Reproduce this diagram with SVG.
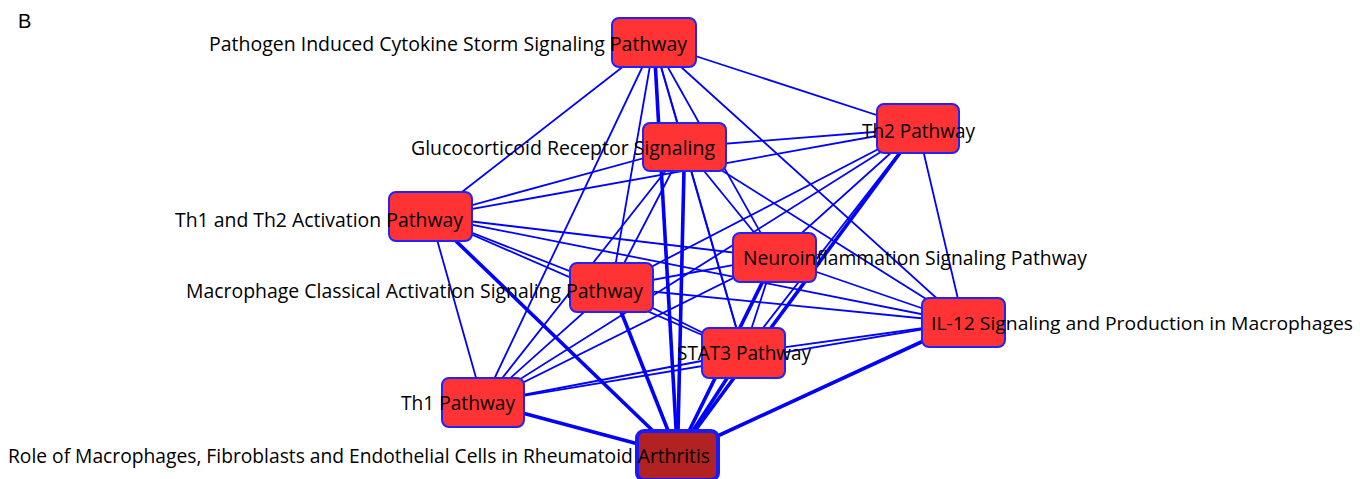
<svg xmlns="http://www.w3.org/2000/svg" width="1360" height="479" viewBox="0 0 1360 479">
<style>
.e{stroke:#0000ff;stroke-width:1.8;fill:none}
.t{stroke-width:3.6}
.n{fill:#ff3333;stroke:#2222ff;stroke-width:2}
.r{fill:#b22222;stroke:#1a1aff;stroke-width:4}
text{font-family:"Open Sans","Noto Sans","Liberation Sans",sans-serif;font-size:20px;fill:#000}
</style>
<rect width="1360" height="479" fill="#fff"/>
<text x="18" y="28" style="font-family:'Liberation Sans',Arial,sans-serif;font-size:20px">B</text>
<g id="edges">
<line class="e" x1="654" y1="42.5" x2="684.5" y2="147"/>
<line class="e" x1="654" y1="42.5" x2="918" y2="128.5"/>
<line class="e" x1="654" y1="42.5" x2="430.5" y2="216.5"/>
<line class="e" x1="654" y1="42.5" x2="611.5" y2="287.5"/>
<line class="e" x1="654" y1="42.5" x2="774.5" y2="257.5"/>
<line class="e" x1="654" y1="42.5" x2="743.5" y2="353"/>
<line class="e" x1="654" y1="42.5" x2="963.5" y2="322.5"/>
<line class="e" x1="654" y1="42.5" x2="483" y2="402.5"/>
<line class="e t" x1="654" y1="42.5" x2="677.5" y2="454.5"/>
<line class="e" x1="684.5" y1="147" x2="918" y2="128.5"/>
<line class="e" x1="684.5" y1="147" x2="430.5" y2="216.5"/>
<line class="e" x1="684.5" y1="147" x2="611.5" y2="287.5"/>
<line class="e" x1="684.5" y1="147" x2="774.5" y2="257.5"/>
<line class="e" x1="684.5" y1="147" x2="743.5" y2="353"/>
<line class="e" x1="684.5" y1="147" x2="963.5" y2="322.5"/>
<line class="e" x1="684.5" y1="147" x2="483" y2="402.5"/>
<line class="e t" x1="684.5" y1="147" x2="677.5" y2="454.5"/>
<line class="e" x1="918" y1="128.5" x2="430.5" y2="216.5"/>
<line class="e" x1="918" y1="128.5" x2="611.5" y2="287.5"/>
<line class="e" x1="918" y1="128.5" x2="774.5" y2="257.5"/>
<line class="e" x1="918" y1="128.5" x2="743.5" y2="353"/>
<line class="e" x1="918" y1="128.5" x2="963.5" y2="322.5"/>
<line class="e" x1="918" y1="128.5" x2="483" y2="402.5"/>
<line class="e t" x1="918" y1="128.5" x2="677.5" y2="454.5"/>
<line class="e" x1="430.5" y1="216.5" x2="611.5" y2="287.5"/>
<line class="e" x1="430.5" y1="216.5" x2="774.5" y2="257.5"/>
<line class="e" x1="430.5" y1="216.5" x2="743.5" y2="353"/>
<line class="e" x1="430.5" y1="216.5" x2="963.5" y2="322.5"/>
<line class="e" x1="430.5" y1="216.5" x2="483" y2="402.5"/>
<line class="e t" x1="430.5" y1="216.5" x2="677.5" y2="454.5"/>
<line class="e" x1="611.5" y1="287.5" x2="774.5" y2="257.5"/>
<line class="e" x1="611.5" y1="287.5" x2="743.5" y2="353"/>
<line class="e" x1="611.5" y1="287.5" x2="963.5" y2="322.5"/>
<line class="e" x1="611.5" y1="287.5" x2="483" y2="402.5"/>
<line class="e t" x1="611.5" y1="287.5" x2="677.5" y2="454.5"/>
<line class="e" x1="774.5" y1="257.5" x2="743.5" y2="353"/>
<line class="e" x1="774.5" y1="257.5" x2="963.5" y2="322.5"/>
<line class="e" x1="774.5" y1="257.5" x2="483" y2="402.5"/>
<line class="e t" x1="774.5" y1="257.5" x2="677.5" y2="454.5"/>
<line class="e" x1="743.5" y1="353" x2="963.5" y2="322.5"/>
<line class="e" x1="743.5" y1="353" x2="483" y2="402.5"/>
<line class="e t" x1="743.5" y1="353" x2="677.5" y2="454.5"/>
<line class="e" x1="963.5" y1="322.5" x2="483" y2="402.5"/>
<line class="e t" x1="963.5" y1="322.5" x2="677.5" y2="454.5"/>
<line class="e t" x1="483" y1="402.5" x2="677.5" y2="454.5"/>
</g>
<g id="node-pathogen"><rect class="n" x="612" y="18" width="84" height="49" rx="7"/><text x="209" y="51" textLength="478" lengthAdjust="spacingAndGlyphs">Pathogen Induced Cytokine Storm Signaling Pathway</text></g>
<g id="node-glucocorticoid"><rect class="n" x="643" y="123" width="83" height="48" rx="7"/><text x="411" y="155" textLength="304" lengthAdjust="spacingAndGlyphs">Glucocorticoid Receptor Signaling</text></g>
<g id="node-th2"><rect class="n" x="877" y="104" width="82" height="49" rx="7"/><text x="862" y="138" textLength="113" lengthAdjust="spacingAndGlyphs">Th2 Pathway</text></g>
<g id="node-th1th2"><rect class="n" x="389" y="192" width="83" height="49" rx="7"/><text x="175" y="227" textLength="288" lengthAdjust="spacingAndGlyphs">Th1 and Th2 Activation Pathway</text></g>
<g id="node-macrophage"><rect class="n" x="570" y="263" width="83" height="49" rx="7"/><text x="186" y="298" textLength="457" lengthAdjust="spacingAndGlyphs">Macrophage Classical Activation Signaling Pathway</text></g>
<g id="node-neuro"><rect class="n" x="733" y="233" width="83" height="49" rx="7"/><text x="743" y="265" textLength="344" lengthAdjust="spacingAndGlyphs">Neuroinflammation Signaling Pathway</text></g>
<g id="node-stat3"><rect class="n" x="702" y="328" width="83" height="50" rx="7"/><text x="677" y="360" textLength="134" lengthAdjust="spacingAndGlyphs">STAT3 Pathway</text></g>
<g id="node-il12"><rect class="n" x="922" y="298" width="83" height="49" rx="7"/><text x="931" y="330" style="font-size:18.5px" textLength="422" lengthAdjust="spacingAndGlyphs">IL-12 Signaling and Production in Macrophages</text></g>
<g id="node-th1"><rect class="n" x="442" y="378" width="82" height="49" rx="7"/><text x="401" y="410" textLength="114" lengthAdjust="spacingAndGlyphs">Th1 Pathway</text></g>
<g id="node-role"><rect class="r" x="637" y="431" width="81" height="49" rx="7"/><text x="8" y="463" textLength="702" lengthAdjust="spacingAndGlyphs">Role of Macrophages, Fibroblasts and Endothelial Cells in Rheumatoid Arthritis</text></g>
</svg>
